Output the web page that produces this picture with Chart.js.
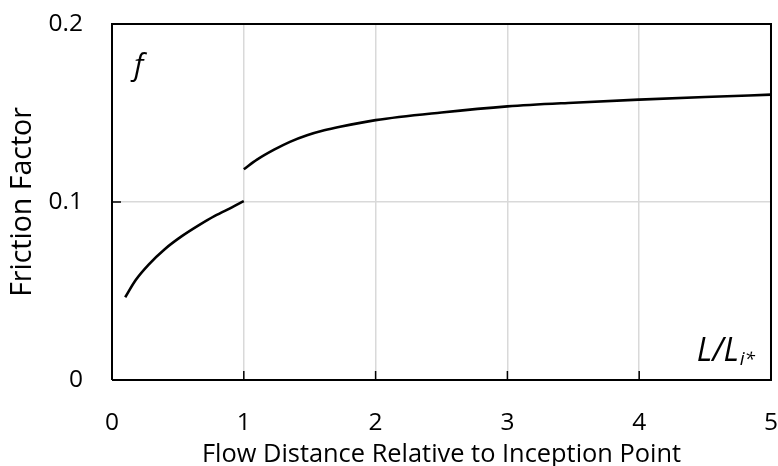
<!DOCTYPE html>
<html>
<head>
<meta charset="utf-8">
<script src="https://cdn.jsdelivr.net/npm/chart.js@4"></script>
<style>
  body { margin: 0; background: #fff; }
  #wrap { width: 778px; height: 466px; }
</style>
</head>
<body>
<div id="wrap"><canvas id="frictionChart"></canvas></div>
<script>
// before inception point
const seg1X = [0.10, 0.18, 0.28, 0.40, 0.53, 0.66, 0.78, 0.91, 1.00];
const seg1Y = [0.0465, 0.0562, 0.0650, 0.0735, 0.0808, 0.0870, 0.0922, 0.0970, 0.1005];
// after inception point
const seg2X = [1.00, 1.10, 1.23, 1.35, 1.48, 1.61, 1.73, 2.00, 2.50, 3.00, 3.50, 4.00, 4.50, 5.00];
const seg2Y = [0.1184, 0.1238, 0.1294, 0.1338, 0.1375, 0.1403, 0.1423, 0.1460, 0.1503, 0.1537, 0.1558, 0.1575, 0.1590, 0.1603];

const xTicks = [0, 1, 2, 3, 4, 5];
const yTicks = [0, 0.1, 0.2];

const FONT = "'Open Sans', sans-serif";

function toPoints(xs, ys) {
  return xs.map((x, i) => ({ x: x, y: ys[i] }));
}

// box around plot, inner tick marks and the two italic labels
const decor = {
  id: 'decor',
  afterDraw(chart) {
    const ctx = chart.ctx;
    const a = chart.chartArea;
    const xs = chart.scales.x, ys = chart.scales.y;
    ctx.save();
    ctx.strokeStyle = '#000';
    ctx.lineWidth = 2;
    ctx.beginPath();
    ctx.moveTo(a.left, a.bottom);
    ctx.lineTo(a.left, a.top);
    ctx.lineTo(a.right, a.top);
    ctx.lineTo(a.right, a.bottom);
    ctx.lineTo(a.left, a.bottom);
    ctx.stroke();
    ctx.lineWidth = 1.5;
    xTicks.slice(1, -1).forEach(v => {
      const px = xs.getPixelForValue(v);
      ctx.beginPath();
      ctx.moveTo(px, a.bottom);
      ctx.lineTo(px, a.bottom - 9);
      ctx.stroke();
    });
    const py = ys.getPixelForValue(0.1);
    ctx.beginPath();
    ctx.moveTo(a.left, py);
    ctx.lineTo(a.left + 9, py);
    ctx.stroke();

    ctx.fillStyle = '#000';
    ctx.textBaseline = 'alphabetic';
    ctx.font = "italic 30px " + FONT;
    ctx.textAlign = 'left';
    ctx.fillText('f', a.left + 22, a.top + 51);
    const sub = "italic 19px " + FONT;
    ctx.font = sub;
    const subW = ctx.measureText('i*').width;
    ctx.textAlign = 'right';
    ctx.fillText('i*', a.right - 16, a.bottom - 15);
    ctx.font = "italic 32px " + FONT;
    ctx.fillText('L/L', a.right - 17 - subW, a.bottom - 19);
    ctx.restore();
  }
};

new Chart(document.getElementById('frictionChart'), {
  type: 'scatter',
  data: {
    datasets: [
      { data: toPoints(seg1X, seg1Y), showLine: true, borderColor: '#000', borderWidth: 2.6,
        pointRadius: 0, cubicInterpolationMode: 'monotone' },
      { data: toPoints(seg2X, seg2Y), showLine: true, borderColor: '#000', borderWidth: 2.6,
        pointRadius: 0, cubicInterpolationMode: 'monotone' }
    ]
  },
  options: {
    responsive: true,
    maintainAspectRatio: false,
    animation: false,
    layout: { padding: { top: 24, right: 7, left: 0, bottom: 0 } },
    plugins: { legend: { display: false }, tooltip: { enabled: false } },
    scales: {
      x: {
        type: 'linear', min: 0, max: 5,
        afterBuildTicks: s => { s.ticks = xTicks.map(v => ({ value: v })); },
        afterFit: s => { s.height = 86; },
        grid: { color: '#d9d9d9', lineWidth: 1.5, drawTicks: true, tickLength: 28, tickColor: 'rgba(0,0,0,0)' },
        border: { display: false },
        ticks: { color: '#000', font: { family: FONT, size: 24.5 }, padding: 0 },
        title: { display: true, text: 'Flow Distance Relative to Inception Point', color: '#000',
          font: { family: FONT, size: 25.4 }, padding: { top: 0, bottom: -4 } }
      },
      y: {
        type: 'linear', min: 0, max: 0.2,
        afterBuildTicks: s => { s.ticks = yTicks.map(v => ({ value: v })); },
        afterFit: s => { s.width = 112; },
        grid: { color: '#d9d9d9', lineWidth: 1.5, drawTicks: true, tickLength: 29, tickColor: 'rgba(0,0,0,0)' },
        border: { display: false },
        ticks: { color: '#000', font: { family: FONT, size: 24.5 }, padding: 0,
          callback: v => String(v) },
        title: { display: true, text: 'Friction Factor', color: '#000',
          font: { family: FONT, size: 28.5 }, padding: { top: 6, bottom: 0 } }
      }
    }
  },
  plugins: [decor]
});
</script>
</body>
</html>
